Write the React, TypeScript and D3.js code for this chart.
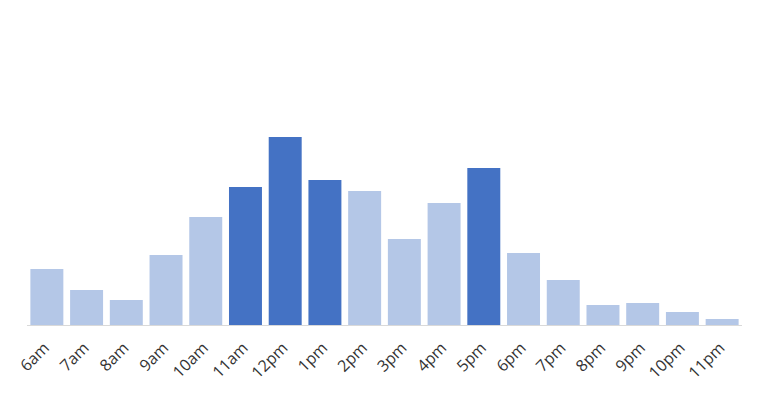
import React from "react";
import * as d3 from "d3";

const hours = ["6am","7am","8am","9am","10am","11am","12pm","1pm","2pm","3pm","4pm","5pm","6pm","7pm","8pm","9pm","10pm","11pm"];
const values = [56, 35, 25, 70, 108, 138, 188, 145, 134, 86, 122, 157, 72, 45, 20, 22, 13, 6];
const highlighted = ["11am","12pm","1pm","5pm"];

const W = 765, H = 400;

export default function App() {
  const x = d3.scaleBand<string>().domain(hours).range([27, 742]).paddingInner(0.17).paddingOuter(0.085);
  const y = d3.scaleLinear().domain([0, 200]).range([325, 125]);
  return (
    <svg width={W} height={H} style={{ position: "absolute", left: 0, top: 0 }}>
      <rect width={W} height={H} fill="#fff" />
      {hours.map((h, i) => (
        <rect key={h} x={x(h)} y={y(values[i])} width={x.bandwidth()} height={y(0) - y(values[i])}
          fill={highlighted.includes(h) ? "#4472C4" : "#B4C7E7"} />
      ))}
      <line x1={27} x2={742} y1={325.5} y2={325.5} stroke="#d9d9d9" strokeWidth={1} />
      {hours.map((h) => {
        const cx = (x(h) as number) + x.bandwidth() / 2;
        return (
          <text key={h} transform={`translate(${cx - 0.5},${345}) rotate(-45)`} textAnchor="end" dy="0.35em"
            fontFamily="'Open Sans', sans-serif" fontSize={16} fill="#333">{h}</text>
        );
      })}
    </svg>
  );
}
